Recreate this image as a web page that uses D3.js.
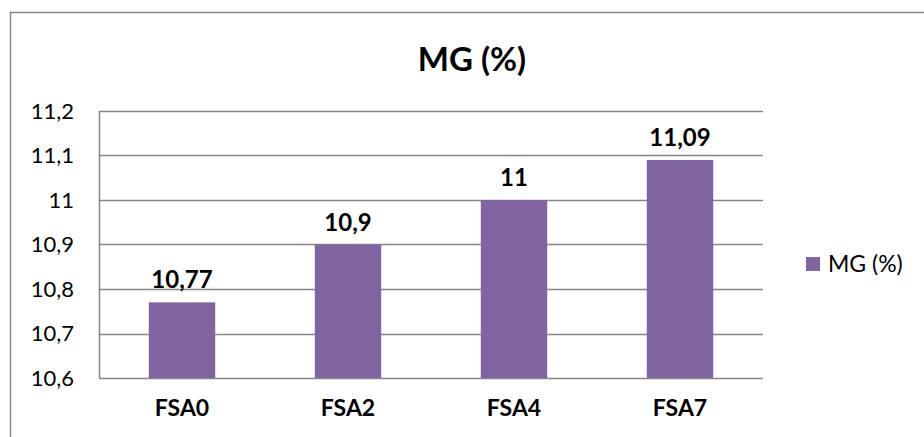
<!DOCTYPE html>
<html>
<head>
<meta charset="utf-8">
<script src="https://cdn.jsdelivr.net/npm/d3@7"></script>
<style>
  body { margin: 0; background: #fff; }
  svg { font-family: Lato, "Liberation Sans", sans-serif; }
</style>
</head>
<body>
<div id="chart"></div>
<script>
const categories = ['FSA0', 'FSA2', 'FSA4', 'FSA7']
const values = [10.77, 10.9, 11, 11.09]
const valueLabels = ['10,77', '10,9', '11', '11,09']
const yTicks = [10.6, 10.7, 10.8, 10.9, 11, 11.1, 11.2]
const seriesName = 'MG (%)'

const WIDTH = 924
const HEIGHT = 437
const PLOT = { LEFT: 99, RIGHT: 763, TOP: 111, BOTTOM: 378 }
const BAR_COLOR = '#8064a2'
const GRID_COLOR = '#868686'

const svg = d3.select('#chart')
    .append('svg')
    .attr('width', WIDTH)
    .attr('height', HEIGHT)

// outer chart border (runs off the right and bottom edges)
svg.append('rect')
    .attr('x', 10.5)
    .attr('y', 12.5)
    .attr('width', WIDTH + 20)
    .attr('height', HEIGHT + 20)
    .attr('fill', 'none')
    .attr('stroke', GRID_COLOR)
    .attr('stroke-width', 1.5)

svg.append('text')
    .attr('x', 472)
    .attr('y', 71)
    .attr('text-anchor', 'middle')
    .attr('font-size', 33)
    .attr('font-weight', 'bold')
    .text(seriesName)

const x = d3.scaleBand()
    .domain(categories)
    .range([PLOT.LEFT, PLOT.RIGHT])
    .paddingInner(0.6)
    .paddingOuter(0.3)

const y = d3.scaleLinear()
    .domain([10.6, 11.2])
    .range([PLOT.BOTTOM, PLOT.TOP])

const fmt = (d) => d3.format('.1f')(d).replace('.', ',').replace(',0', '')

// gridlines
svg.append('g')
    .selectAll('line')
    .data(yTicks)
    .join('line')
    .attr('x1', PLOT.LEFT)
    .attr('x2', PLOT.RIGHT)
    .attr('y1', (d) => Math.round(y(d)) + 0.5)
    .attr('y2', (d) => Math.round(y(d)) + 0.5)
    .attr('stroke', GRID_COLOR)
    .attr('stroke-width', 1.5)

// plot-area left edge
svg.append('line')
    .attr('x1', PLOT.LEFT + 0.5)
    .attr('x2', PLOT.LEFT + 0.5)
    .attr('y1', PLOT.TOP)
    .attr('y2', PLOT.BOTTOM)
    .attr('stroke', GRID_COLOR)
    .attr('stroke-width', 1.5)

const yAxis = svg.append('g')
    .attr('transform', `translate(${PLOT.LEFT},0)`)
    .call(d3.axisLeft(y).tickValues(yTicks).tickFormat(fmt).tickSize(0).tickPadding(25))
yAxis.select('.domain').remove()
yAxis.selectAll('text')
    .attr('font-size', 22)
    .attr('font-family', 'Lato, sans-serif')
    .attr('fill', '#000')

svg.append('g')
    .selectAll('rect')
    .data(values)
    .join('rect')
    .attr('x', (d, i) => x(categories[i]))
    .attr('y', (d) => y(d))
    .attr('width', x.bandwidth())
    .attr('height', (d) => y(10.6) - y(d))
    .attr('fill', BAR_COLOR)

svg.append('g')
    .selectAll('text')
    .data(values)
    .join('text')
    .attr('x', (d, i) => x(categories[i]) + x.bandwidth() / 2)
    .attr('y', (d) => y(d) - 14)
    .attr('text-anchor', 'middle')
    .attr('font-size', 24)
    .attr('font-weight', 'bold')
    .text((d, i) => valueLabels[i])

const xAxis = svg.append('g')
    .attr('transform', `translate(0,${PLOT.BOTTOM})`)
    .call(d3.axisBottom(x).tickSize(0).tickPadding(22))
xAxis.select('.domain').remove()
xAxis.selectAll('text')
    .attr('font-size', 23)
    .attr('font-weight', 'bold')
    .attr('font-family', 'Lato, sans-serif')
    .attr('fill', '#000')

// legend
const legend = svg.append('g')
    .attr('transform', 'translate(806,257)')
legend.append('rect')
    .attr('width', 14)
    .attr('height', 14)
    .attr('fill', BAR_COLOR)
legend.append('text')
    .attr('x', 22)
    .attr('y', 15)
    .attr('font-size', 23)
    .text(seriesName)
</script>
</body>
</html>
